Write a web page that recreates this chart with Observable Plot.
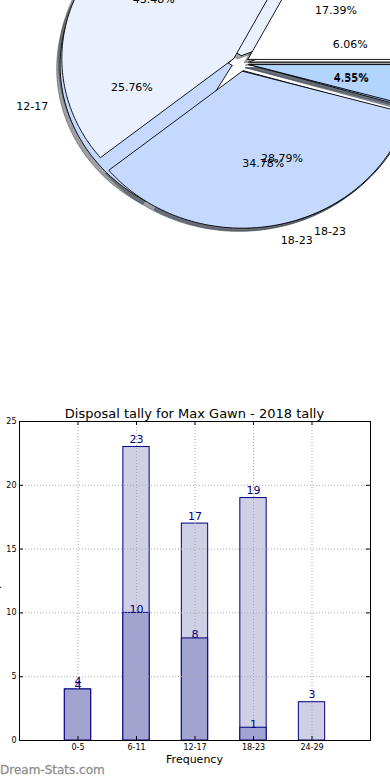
<!DOCTYPE html>
<html><head><meta charset="utf-8">
<script src="https://cdn.jsdelivr.net/npm/d3@7"></script>
<script src="https://cdn.jsdelivr.net/npm/@observablehq/plot@0.6"></script>
<style>
body{margin:0;background:#fff;}
#page{position:relative;width:390px;height:780px;overflow:hidden;font-family:"DejaVu Sans",sans-serif;background:#fff;}
#pie{position:absolute;left:0;top:0;}
#bars{position:absolute;left:0;top:400px;}
#title{position:absolute;left:19px;width:351px;top:406px;height:16px;line-height:16px;text-align:center;font-size:13px;color:#000;}
#xlabel{position:absolute;left:19px;width:351px;top:752px;height:16px;line-height:16px;text-align:center;font-size:11px;color:#000;}
#brand{position:absolute;left:0px;top:762px;height:16px;line-height:16px;font-size:12px;font-weight:normal;color:#888;-webkit-text-stroke:0.3px #999;}
#ylabel{position:absolute;left:2px;top:580px;transform-origin:0 0;transform:rotate(-90deg) translate(-50%,-100%);font-size:11px;line-height:12px;white-space:nowrap;color:#000;}
</style></head>
<body><div id="page">
<div id="pie"></div>
<div id="bars"></div>
<div id="title">Disposal tally for Max Gawn - 2018 tally</div>
<div id="xlabel">Frequency</div>
<div id="ylabel">Disposals</div>
<div id="brand">Dream-Stats.com</div>
</div>
<script>
// ---- data ----
const categories = ["0-5", "6-11", "12-17", "18-23", "24-29"];
const totalGames = [4, 23, 17, 19, 3];
const wonGames = [4, 10, 8, 1, 0];
const pie1Labels = ["0-5", "6-11", "12-17", "18-23", "24-29"];
const pie1Values = [4, 23, 17, 19, 3];
const pie2Labels = ["6-11", "12-17", "18-23", "24-29"];
const pie2Values = [4, 10, 8, 1];
const pieColors = ["#ffffff", "#eaf1fe", "#c5d9fe", "#b3d4fe", "#9fc6fe"];
const yTicks = [0, 5, 10, 15, 20, 25];

// ---- pie geometry (unit radius, explode & shadow like matplotlib) ----
const EXPLODE = 0.05, SHADOW = 0.02;
function buildPie(values, labels) {
  const arcs = d3.pie().sort(null).startAngle(0).endAngle(2 * Math.PI)(values);
  const total = d3.sum(values);
  return arcs.map((a, i) => {
    const t0 = a.startAngle, t1 = a.endAngle, tm = (t0 + t1) / 2;
    const ox = EXPLODE * Math.cos(tm), oy = EXPLODE * Math.sin(tm);
    const n = Math.max(2, Math.ceil((t1 - t0) / (Math.PI / 180)));
    const pts = [[ox, oy]];
    for (let k = 0; k <= n; k++) {
      const t = t0 + (t1 - t0) * k / n;
      pts.push([ox + Math.cos(t), oy + Math.sin(t)]);
    }
    pts.push([ox, oy]);
    const color = pieColors[i % pieColors.length];
    const c = d3.rgb(color);
    const shade = d3.rgb(c.r * 0.3, c.g * 0.3, c.b * 0.3).formatHex();
    return {
      pts, color, shade,
      label: labels[i],
      pct: (values[i] / total * 100).toFixed(2) + "%",
      lx: ox + 1.1 * Math.cos(tm), ly: oy + 1.1 * Math.sin(tm),
      px: ox + 0.6 * Math.cos(tm), py: oy + 0.6 * Math.sin(tm)
    };
  });
}
const pie1 = buildPie(pie1Values, pie1Labels);
const pie2 = buildPie(pie2Values, pie2Labels);
const allW = [...pie1, ...pie2];

const CX = 240, CY = 63, RX = 172, RY = 157, PW = 390, PH = 260;
const pieMarks = [];
for (const w of allW) {
  pieMarks.push(Plot.line(w.pts, {x: d => d[0] - SHADOW, y: d => d[1] - SHADOW,
    fill: w.shade, fillOpacity: 0.5, stroke: w.shade, strokeOpacity: 0.5, strokeWidth: 1}));
}
for (const w of allW) {
  pieMarks.push(Plot.line(w.pts, {x: d => d[0], y: d => d[1],
    fill: w.color, stroke: "#000", strokeWidth: 0.9, strokeLinejoin: "miter"}));
}
const txt = {fontSize: 11, fill: "#000", fontFamily: "DejaVu Sans"};
pieMarks.push(Plot.text(allW.filter(w => w.lx >= 0), {x: "lx", y: "ly", text: "label", textAnchor: "start", ...txt}));
pieMarks.push(Plot.text(allW.filter(w => w.lx < 0), {x: "lx", y: "ly", text: "label", textAnchor: "end", ...txt}));
pieMarks.push(Plot.text(allW, {x: "px", y: "py", text: "pct", textAnchor: "middle", ...txt}));

const pieChart = Plot.plot({
  width: PW, height: PH, margin: 0,
  x: {domain: [-CX / RX, (PW - CX) / RX], range: [0, PW], axis: null},
  y: {domain: [(CY - PH) / RY, CY / RY], range: [PH, 0], axis: null},
  style: {background: "transparent", overflow: "hidden"},
  marks: pieMarks
});
document.getElementById("pie").append(pieChart);

// ---- bar chart ----
const rows = categories.map((c, i) => ({i, cat: c, total: totalGames[i], won: wonGames[i]}));
const BW = 0.225;
const navy = "#000080";
const grid = {stroke: "#aaaaaa", strokeDasharray: "1,2", strokeWidth: 1};
const xt = 4 / 58.5, yt = 4 / 12.76;
const barChart = Plot.plot({
  width: 390, height: 370,
  marginTop: 21, marginBottom: 30, marginLeft: 19, marginRight: 20,
  x: {domain: [-1, 5], axis: null},
  y: {domain: [0, 25], axis: null},
  style: {background: "transparent", fontFamily: "DejaVu Sans", overflow: "visible"},
  marks: [
    Plot.rect(rows, {x1: d => d.i - BW, x2: d => d.i + BW, y1: 0, y2: "total", fill: "#cfcfe6", stroke: navy, strokeWidth: 1}),
    Plot.rect(rows.filter(d => d.won > 0), {x1: d => d.i - BW, x2: d => d.i + BW, y1: 0, y2: "won", fill: "#a3a3d1", stroke: navy, strokeWidth: 1}),
    Plot.ruleX(rows, {x: "i", ...grid}),
    Plot.ruleY(yTicks, {...grid}),
    Plot.ruleY(yTicks, {x1: -1, x2: -1 + xt, stroke: "#000"}),
    Plot.ruleY(yTicks, {x1: 5 - xt, x2: 5, stroke: "#000"}),
    Plot.ruleX(rows, {x: "i", y1: 0, y2: yt, stroke: "#000"}),
    Plot.ruleX(rows, {x: "i", y1: 25 - yt, y2: 25, stroke: "#000"}),
    Plot.frame({stroke: "#000", strokeWidth: 1}),
    Plot.axisY(yTicks, {anchor: "left", tickSize: 0, tickPadding: 3, fontSize: 8, label: null}),
    Plot.axisX(rows.map(d => d.i), {anchor: "bottom", tickSize: 0, tickPadding: 4, fontSize: 8, label: null, tickFormat: i => categories[i]}),
    Plot.text(rows, {x: "i", y: "total", text: d => String(d.total), dy: -4, lineAnchor: "bottom", fill: navy, fontSize: 11}),
    Plot.text(rows.filter(d => d.won > 0), {x: "i", y: "won", text: d => String(d.won), dy: 0, lineAnchor: "bottom", fill: navy, fontSize: 11})
  ]
});
document.getElementById("bars").append(barChart);
</script>
</body></html>
